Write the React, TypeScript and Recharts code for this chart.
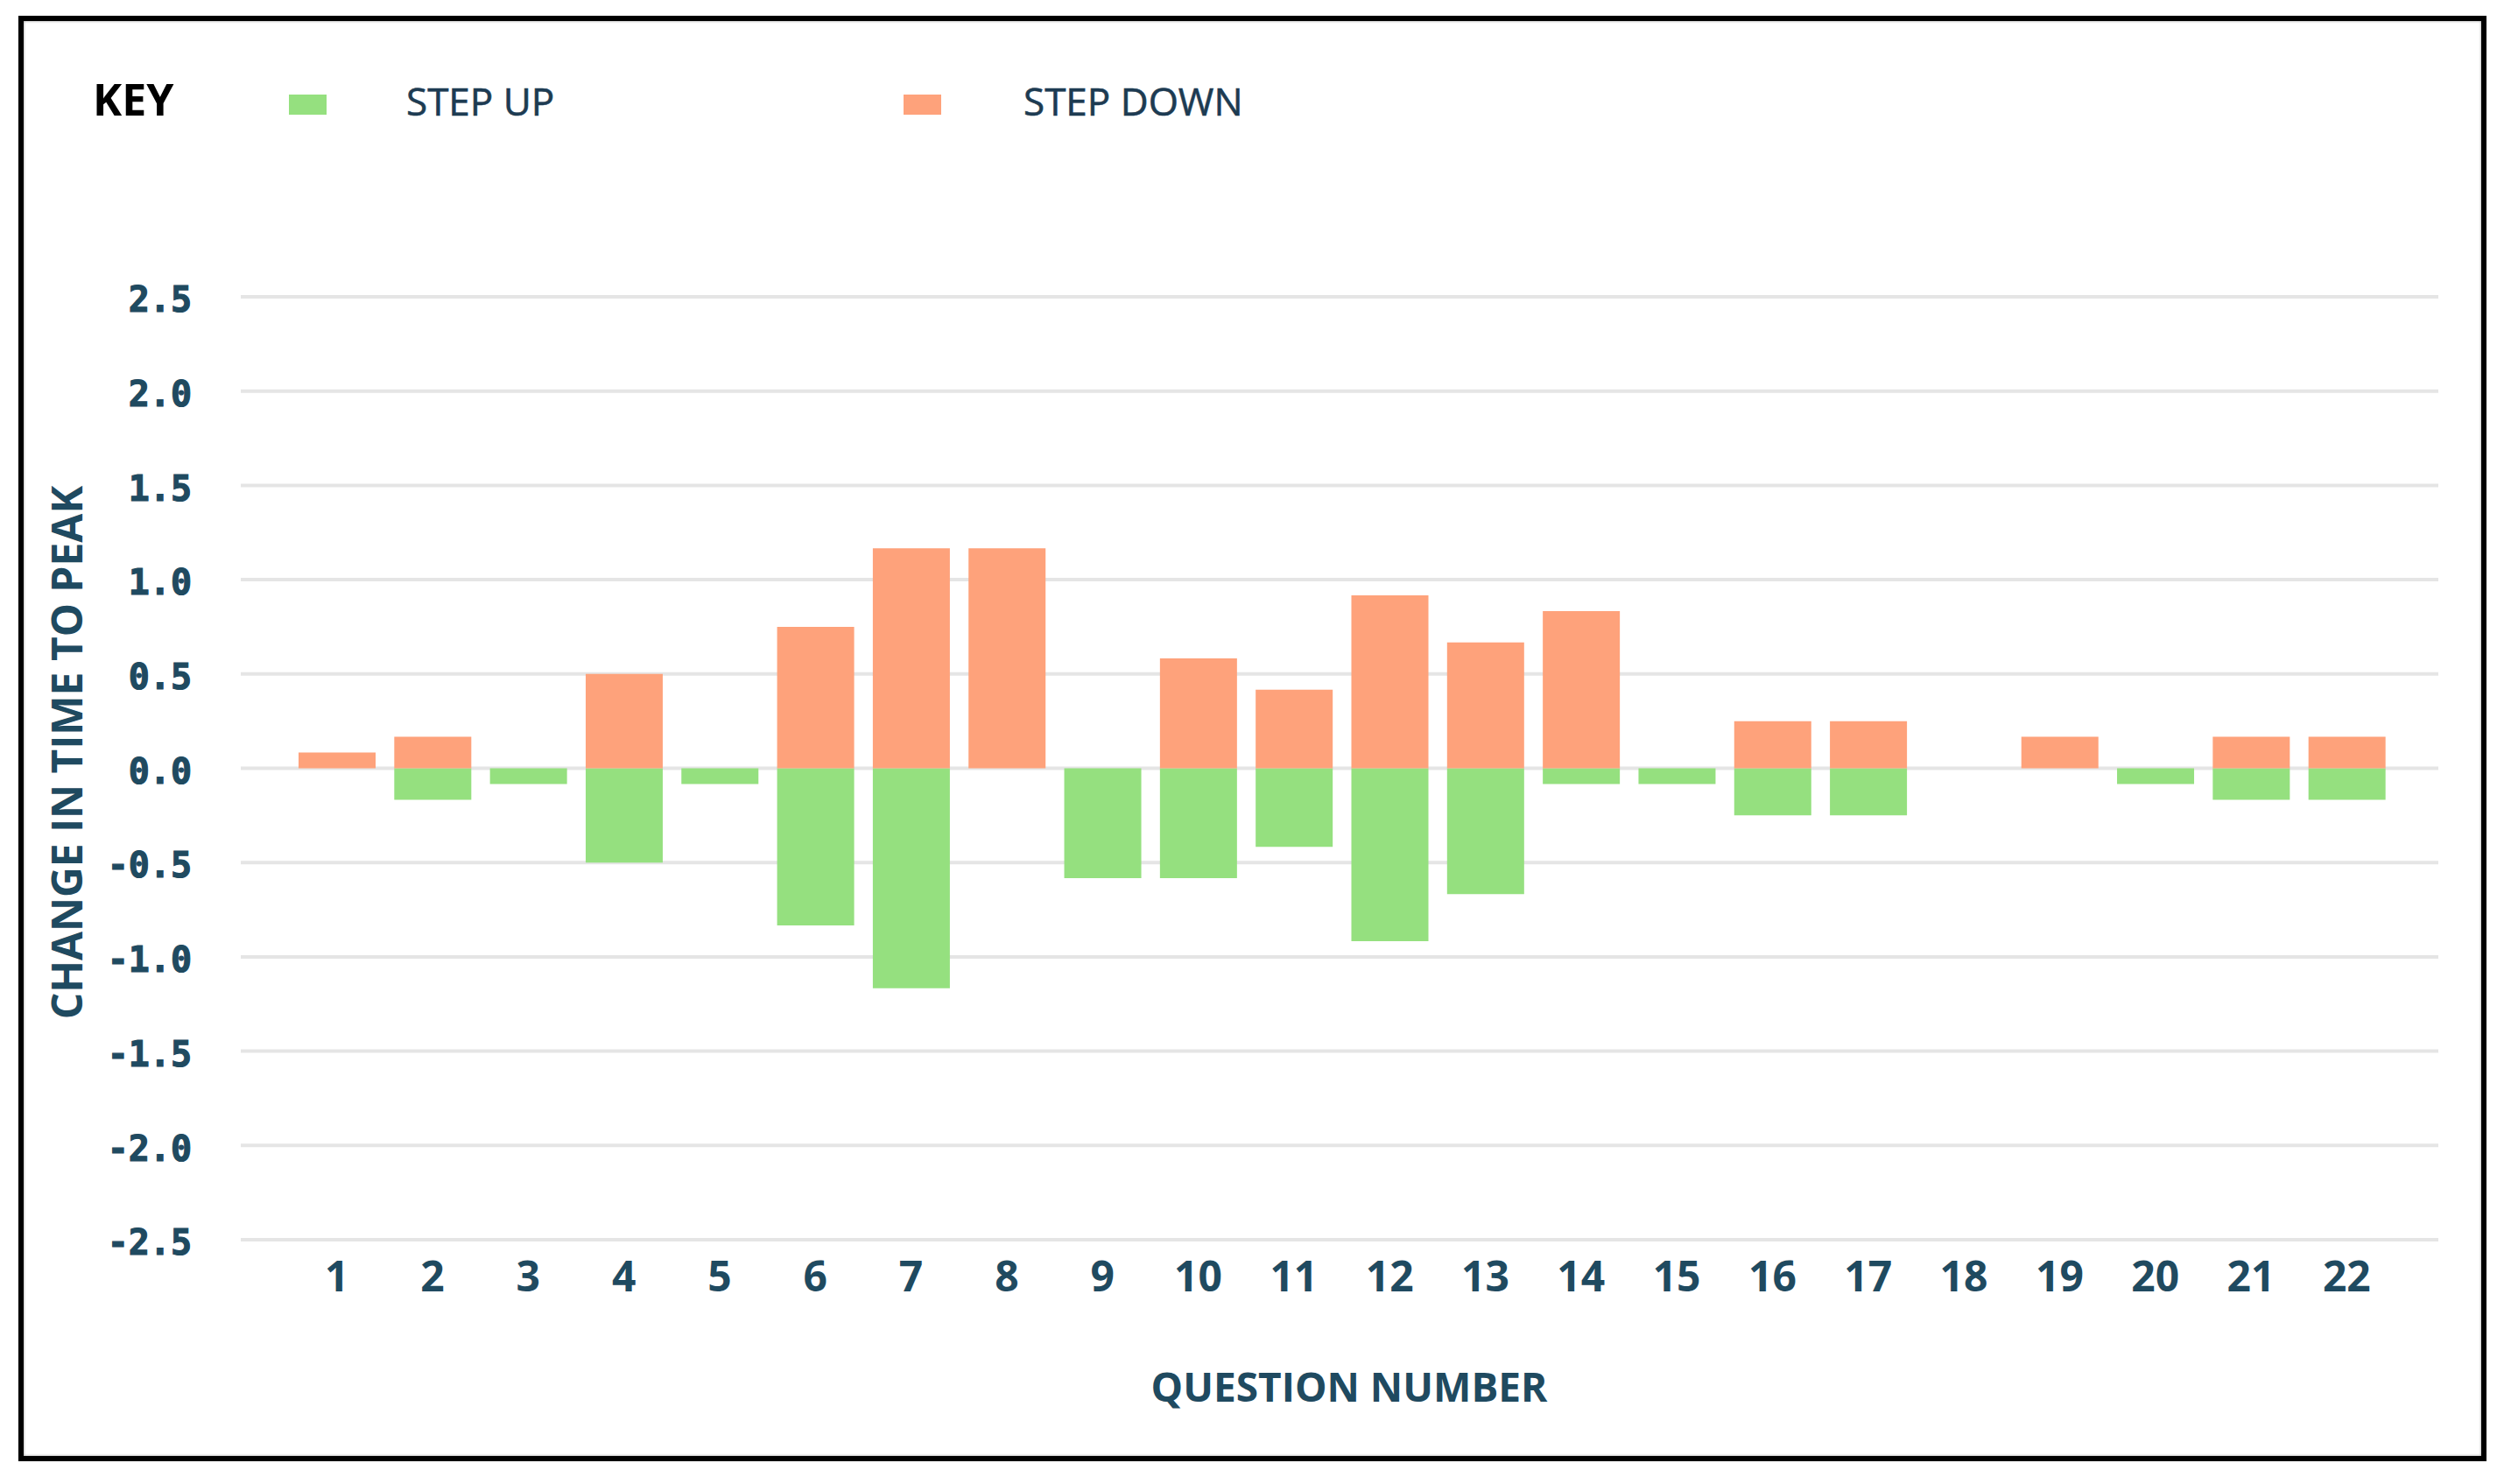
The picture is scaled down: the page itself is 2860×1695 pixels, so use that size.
import React from 'react';
import { BarChart, Bar, XAxis, YAxis, CartesianGrid, Legend } from 'recharts';

const questions = ['1', '2', '3', '4', '5', '6', '7', '8', '9', '10', '11', '12', '13', '14', '15', '16', '17', '18', '19', '20', '21', '22'];
const stepUp = [0, -0.167, -0.083, -0.5, -0.083, -0.833, -1.167, 0, -0.583, -0.583, -0.417, -0.917, -0.667, -0.083, -0.083, -0.25, -0.25, 0, 0, -0.083, -0.167, -0.167];
const stepDown = [0.083, 0.167, 0, 0.5, 0, 0.75, 1.167, 1.167, 0, 0.583, 0.417, 0.917, 0.667, 0.833, 0, 0.25, 0.25, 0, 0.167, 0, 0.167, 0.167];
const yTicks = [-2.5, -2.0, -1.5, -1.0, -0.5, 0, 0.5, 1.0, 1.5, 2.0, 2.5];
const seriesNames = ['STEP UP', 'STEP DOWN'];

const data = questions.map((q, i) => ({ q, up: stepUp[i], down: stepDown[i] }));

const GREEN = '#95e07f';
const ORANGE = '#fea27b';
const SLATE = '#1f4a60';
const FONT = "'Open Sans', 'Noto Sans', sans-serif";

const legendSlots = [
  { swatch: 330, text: 464 },
  { swatch: 1032, text: 1169 },
];

const renderLegend = (props: any) => {
  const raw = props.payload || [];
  const payload = seriesNames
    .map((n) => raw.find((p: any) => p.value === n))
    .filter(Boolean);
  return (
    <div style={{ position: 'relative', width: 2860, height: 0 }}>
      <span
        style={{
          position: 'absolute', left: 106, top: 88, fontFamily: FONT, fontWeight: 700,
          fontSize: 50, lineHeight: '50px', color: '#000', whiteSpace: 'nowrap',
        }}
      >
        KEY
      </span>
      {payload.map((p: any, i: number) => (
        <React.Fragment key={p.value}>
          <span
            style={{
              position: 'absolute', left: legendSlots[i].swatch, top: 108, width: 43, height: 23,
              background: p.color,
            }}
          />
          <span
            style={{
              position: 'absolute', left: legendSlots[i].text, top: 93, fontFamily: FONT, fontWeight: 500,
              fontSize: 44, lineHeight: '44px', color: '#1d3b52', whiteSpace: 'nowrap',
              WebkitTextStroke: '0.6px #1d3b52',
            }}
          >
            {p.value}
          </span>
        </React.Fragment>
      ))}
    </div>
  );
};

const YLabel = (props: any) => {
  const vb = props.viewBox || { x: 0, y: 0, width: 0, height: 0 };
  const cx = vb.x + 75;
  const cy = vb.y + vb.height / 2 - 18;
  return (
    <text
      x={cx}
      y={cy}
      transform={`rotate(-90, ${cx}, ${cy})`}
      textAnchor="middle"
      dominantBaseline="central"
      fill={SLATE}
      fontFamily={FONT}
      fontWeight={700}
      fontSize={48}
    >
      CHANGE IN TIME TO PEAK
    </text>
  );
};

const XLabel = (props: any) => {
  const vb = props.viewBox || { x: 0, y: 0, width: 0, height: 0 };
  const cx = vb.x + vb.width / 2 + 11;
  const cy = vb.y + 167;
  return (
    <text
      x={cx}
      y={cy}
      textAnchor="middle"
      dominantBaseline="central"
      fill={SLATE}
      fontFamily={FONT}
      fontWeight={700}
      fontSize={46}
    >
      QUESTION NUMBER
    </text>
  );
};

export default function App() {
  return (
    <div style={{ position: 'absolute', left: 0, top: 0, width: 2860, height: 1695, background: '#fff' }}>
      <div
        style={{
          position: 'absolute', left: 21, top: 18, width: 2819, height: 1651,
          border: '6px solid #000', boxSizing: 'border-box', boxShadow: 'inset 0 0 3px #888',
        }}
      />
      <div style={{ position: 'absolute', left: 0, top: 0 }}>
        <BarChart
          width={2860}
          height={1695}
          data={data}
          stackOffset="sign"
          margin={{ top: 339, right: 75, bottom: 199, left: 0 }}
        >
          <CartesianGrid vertical={false} stroke="#e5e5e5" strokeWidth={4} />
          <XAxis
            dataKey="q"
            type="category"
            interval={0}
            height={80}
            padding={{ left: 55, right: 50 }}
            axisLine={false}
            tickLine={false}
            tickSize={6}
            tickMargin={19}
            tick={{ fill: SLATE, fontFamily: FONT, fontWeight: 700, fontSize: 48 }}
            label={<XLabel />}
          />
          <YAxis
            type="number"
            domain={[-2.5, 2.5]}
            ticks={yTicks}
            interval={0}
            width={275}
            axisLine={false}
            tickLine={false}
            tickSize={6}
            tickMargin={50}
            tickFormatter={(v: number) => v.toFixed(1)}
            tick={{
              fill: SLATE, stroke: SLATE, strokeWidth: 1.2, fontFamily: "'DejaVu Sans Mono', monospace",
              fontWeight: 700, fontSize: 40, dy: 3,
            }}
            label={<YLabel />}
          />
          <Legend content={renderLegend} wrapperStyle={{ top: 0, left: 0, width: 2860, height: 0 }} />
          <Bar dataKey="up" name="STEP UP" stackId="a" fill={GREEN} barSize={88} isAnimationActive={false} />
          <Bar dataKey="down" name="STEP DOWN" stackId="a" fill={ORANGE} barSize={88} isAnimationActive={false} />
        </BarChart>
      </div>
    </div>
  );
}
